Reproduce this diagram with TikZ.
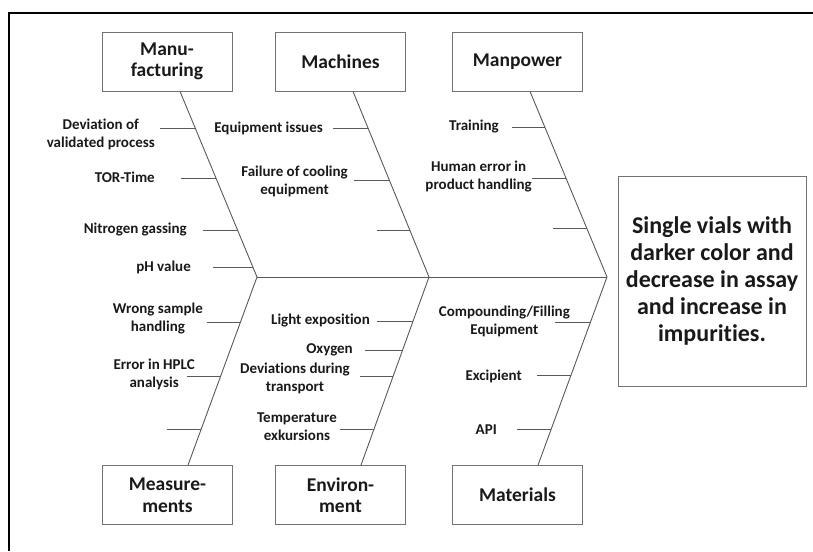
\documentclass[tikz,border=0pt]{standalone}
\usepackage{fontspec}
\setmainfont[Ligatures=NoCommon]{Carlito}
\usetikzlibrary{positioning,calc}

\tikzset{
    catbox/.style={draw=black!55, line width=0.8pt, minimum width=130pt, minimum height=59pt,
        align=center, text=black!90, font=\bfseries\fontsize{19.5}{21.5}\selectfont},
    cause/.style={anchor=east, align=center, inner sep=0pt, text=black!90,
        font=\bfseries\fontsize{15}{18}\selectfont},
    bone/.style={draw=black!65, line width=0.9pt}
}

\begin{document}
\begin{tikzpicture}[x=1pt,y=-1pt]
                \useasboundingbox (0,0) rectangle (813,551);
                \draw[line width=2.5pt] (9,551) -- (9,13) -- (813,13);
                \node[catbox] (manu) at (167,61.5) {Manu-\\facturing};
                \node[catbox] (mach) at (340.5,61.5) {Machines};
                \node[catbox] (manp) at (517.5,61.5) {Manpower};
                \node[catbox] (meas) at (167.5,495) {Measure-\\ments};
                \node[catbox] (envi) at (340.5,495) {Environ-\\ment};
                \node[catbox] (mate) at (517.5,495) {Materials};
                \node[catbox, minimum width=188pt, minimum height=210pt,
                    font=\bfseries\fontsize{24}{27}\selectfont] (effect) at (712,281)
                    {Single vials with\\darker color and\\decrease in assay\\and increase in\\impurities.};
                \coordinate (j1) at (257,277);
                \coordinate (j2) at (429,277);
                \coordinate (j3) at (607,277);
                \coordinate (manuB) at ([xshift=13]manu.south);
                \coordinate (machB) at ([xshift=12.5]mach.south);
                \coordinate (manpB) at ([xshift=12.5]manp.south);
                \coordinate (measB) at ([xshift=20.5]meas.north);
                \coordinate (enviB) at ([xshift=20.5]envi.north);
                \coordinate (mateB) at ([xshift=20.5]mate.north);
                \draw[bone] (j1) -- (j3);
                \draw[bone] (manuB) -- (j1) -- (measB);
                \draw[bone] (machB) -- (j2) -- (enviB);
                \draw[bone] (manpB) -- (j3) -- (mateB);
                \draw[bone] ($(manuB)!.20!(j1)$) -- ++(-35,0);
                \draw[bone] ($(manuB)!.47!(j1)$) -- ++(-35,0);
                \draw[bone] ($(manuB)!.75!(j1)$) -- ++(-35,0);
                \draw[bone] ($(manuB)!.95!(j1)$) -- ++(-40,0);
                \draw[bone] ($(machB)!.20!(j2)$) -- ++(-35,0);
                \draw[bone] ($(machB)!.48!(j2)$) -- ++(-35,0);
                \draw[bone] ($(machB)!.75!(j2)$) -- ++(-33,0);
                \draw[bone] ($(manpB)!.195!(j3)$) -- ++(-33,0);
                \draw[bone] ($(manpB)!.47!(j3)$) -- ++(-34,0);
                \draw[bone] ($(manpB)!.74!(j3)$) -- ++(-34,0);
                \draw[bone] ($(j1)!.24!(measB)$) -- ++(-33,0);
                \draw[bone] ($(j1)!.53!(measB)$) -- ++(-33,0);
                \draw[bone] ($(j1)!.81!(measB)$) -- ++(-34,0);
                \draw[bone] ($(j2)!.235!(enviB)$) -- ++(-36,0);
                \draw[bone] ($(j2)!.39!(enviB)$) -- ++(-37,0);
                \draw[bone] ($(j2)!.53!(enviB)$) -- ++(-33,0);
                \draw[bone] ($(j2)!.81!(enviB)$) -- ++(-34,0);
                \draw[bone] ($(j3)!.24!(mateB)$) -- ++(-35,0);
                \draw[bone] ($(j3)!.525!(mateB)$) -- ++(-34,0);
                \draw[bone] ($(j3)!.81!(mateB)$) -- ++(-34,0);
                \node[cause] (devproc) at (155,134) {Deviation of\\validated process};
                \node[cause] (tortime) at (155,177) {TOR-Time};
                \node[cause] (nitro) at (187,230) {Nitrogen gassing};
                \node[cause] (phval) at (191,267) {pH value};
                \node[cause] (equip) at (323,128) {Equipment issues};
                \node[cause] (cooling) at (348,181) {Failure of cooling\\equipment};
                \node[cause] (train) at (499,127) {Training};
                \node[cause] (human) at (532,177) {Human error in\\product handling};
                \node[cause] (sample) at (203,319) {Wrong sample\\handling};
                \node[cause] (hplc) at (195,374) {Error in HPLC\\analysis};
                \node[cause] (light) at (370,321) {Light exposition};
                \node[cause] (oxygen) at (353,350) {Oxygen};
                \node[cause] (transp) at (350,378) {Deviations during\\transport};
                \node[cause] (temp) at (337,427) {Temperature\\exkursions};
                \node[cause] (compfill) at (570,321) {Compounding/Filling\\Equipment};
                \node[cause] (excip) at (522,376) {Excipient};
                \node[cause] (api) at (497,430) {API};
\end{tikzpicture}
\end{document}
